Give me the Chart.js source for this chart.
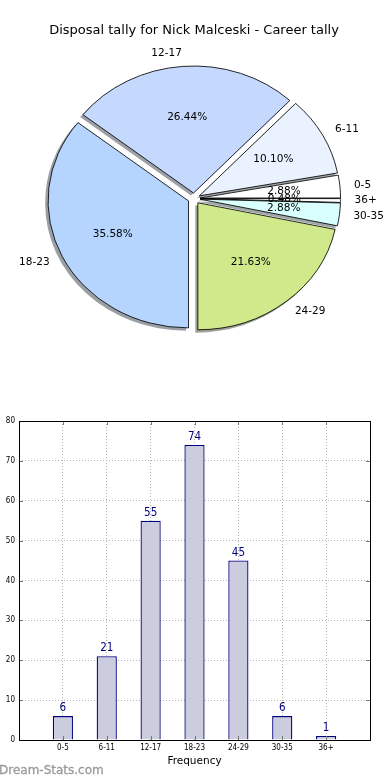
<!DOCTYPE html>
<html><head><meta charset="utf-8">
<script src="https://cdn.jsdelivr.net/npm/chart.js@4/dist/chart.umd.min.js"></script>
<style>
html,body{margin:0;padding:0;background:#fff;}
#wrap{position:relative;width:390px;height:780px;overflow:hidden;font-family:'DejaVu Sans',sans-serif;}
#pieCanvas{position:absolute;left:0;top:0;}
#barCanvas{position:absolute;left:0;top:400px;}
.txt{position:absolute;white-space:nowrap;line-height:1;}
#title{left:0;width:388px;top:23px;text-align:center;font-size:13px;color:#000;}
#xlabel{left:19px;width:351px;top:755px;text-align:center;font-size:10.5px;color:#000;}
#mark{left:-1px;top:764px;font-size:12px;color:#9a9a9a;font-weight:normal;-webkit-text-stroke:0.3px #9a9a9a;}
</style></head>
<body><div id="wrap">
<canvas id="pieCanvas" width="390" height="390"></canvas>
<canvas id="barCanvas" width="390" height="380"></canvas>
<div class="txt" id="title">Disposal tally for Nick Malceski - Career tally</div>
<div class="txt" id="xlabel">Frequency</div>
<div class="txt" id="mark">Dream-Stats.com</div>
</div>
<script>
// ---- data ----
const categories = ['0-5','6-11','12-17','18-23','24-29','30-35','36+'];
const tally = [6, 21, 55, 74, 45, 6, 1];
const sliceColors = ['#ffffff','#eaf2ff','#c5d9ff','#b5d5ff','#d0e98b','#d9ffff','#ffffff'];
const yTicks = [0,10,20,30,40,50,60,70,80];

const total = tally.reduce((a,b)=>a+b,0);
// matplotlib draws counter-clockwise from east; Chart.js clockwise -> reverse order
const pieOrder = categories.map((c,i)=>i).reverse();

const SX = 1.106;      // horizontal stretch of pie (elliptical in reference)
const EXPLODE = 5.5;
const SHADOW = 2.5;

function hexRgb(h){h=h.replace('#','');return [0,2,4].map(i=>parseInt(h.substr(i,2),16));}

const piePlugin = {
  id:'pieDecor',
  afterDatasetUpdate(chart){
    const meta = chart.getDatasetMeta(0);
    meta.data.forEach(arc=>{
      if (arc._wrapped) return;
      arc._wrapped = true;
      arc.draw = function(ctx, area){
        const p = this.getProps(['startAngle','endAngle'], true);
        const mid = (p.startAngle + p.endAngle)/2;
        ctx.save();
        ctx.translate(Math.cos(mid)*EXPLODE, Math.sin(mid)*EXPLODE);
        Chart.ArcElement.prototype.draw.call(this, ctx, area);
        ctx.restore();
      };
    });
  },
  beforeDatasetsDraw(chart){
    const ctx = chart.ctx;
    const meta = chart.getDatasetMeta(0);
    const cx = meta.data[0].x, cy = meta.data[0].y;
    ctx.save();
    ctx.translate(cx, cy); ctx.scale(SX, 1); ctx.translate(-cx, -cy);
    meta.data.forEach((arc,k)=>{
      const p = arc.getProps(['startAngle','endAngle','outerRadius','x','y'], true);
      const mid = (p.startAngle + p.endAngle)/2;
      const ox = p.x + Math.cos(mid)*EXPLODE - SHADOW/SX;
      const oy = p.y + Math.sin(mid)*EXPLODE + SHADOW;
      const c = hexRgb(sliceColors[pieOrder[k]]).map(v=>Math.round(v*0.3));
      ctx.beginPath();
      ctx.moveTo(ox, oy);
      ctx.arc(ox, oy, p.outerRadius + 0.4, p.startAngle, p.endAngle);
      ctx.closePath();
      ctx.fillStyle = `rgba(${c[0]},${c[1]},${c[2]},0.5)`;
      ctx.fill();
    });
  },
  afterDatasetsDraw(chart){
    const ctx = chart.ctx;
    ctx.restore();
    const meta = chart.getDatasetMeta(0);
    const cx = meta.data[0].x, cy = meta.data[0].y;
    ctx.save();
    ctx.fillStyle = '#000';
    ctx.font = '10.5px "DejaVu Sans"';
    meta.data.forEach((arc,k)=>{
      const i = pieOrder[k];
      const p = arc.getProps(['startAngle','endAngle','outerRadius'], true);
      const mid = (p.startAngle + p.endAngle)/2;
      const ux = Math.cos(mid), uy = Math.sin(mid);
      const r = p.outerRadius;
      const lx = cx + SX*ux*(EXPLODE + 1.1*r), ly = cy + uy*(EXPLODE + 1.1*r);
      ctx.textAlign = ux > 0 ? 'left' : 'right';
      ctx.textBaseline = 'middle';
      ctx.fillText(categories[i], lx, ly);
      const px = cx + SX*ux*(EXPLODE + 0.6*r), py = cy + uy*(EXPLODE + 0.6*r);
      ctx.textAlign = 'center';
      ctx.fillText((tally[i]/total*100).toFixed(2) + '%', px, py);
    });
    ctx.restore();
  }
};

new Chart(document.getElementById('pieCanvas'), {
  type:'pie',
  data:{
    labels: pieOrder.map(i=>categories[i]),
    datasets:[{
      data: pieOrder.map(i=>tally[i]),
      backgroundColor: pieOrder.map(i=>sliceColors[i]),
      borderColor:'#000', borderWidth:0.8, radius:127, clip:false
    }]
  },
  options:{
    responsive:false, animation:false, rotation:90,
    layout:{padding:{top:7,left:0,right:2,bottom:0}},
    plugins:{legend:{display:false}, tooltip:{enabled:false}, title:{display:false}}
  },
  plugins:[piePlugin]
});

const barPlugin = {
  id:'barDecor',
  afterDatasetsDraw(chart){
    const ctx = chart.ctx;
    const meta = chart.getDatasetMeta(0);
    ctx.save();
    ctx.fillStyle = '#000080';
    ctx.font = '11.5px "DejaVu Sans Condensed", "DejaVu Sans"';
    ctx.textAlign = 'center';
    ctx.textBaseline = 'bottom';
    meta.data.forEach((bar,i)=>{
      ctx.fillText(String(tally[i]), bar.x, bar.y - 2);
    });
    ctx.restore();
  },
  afterDraw(chart){
    const ctx = chart.ctx, a = chart.chartArea;
    const xs = chart.scales.x, ys = chart.scales.y;
    ctx.save();
    ctx.strokeStyle = '#777'; ctx.lineWidth = 1;
    ctx.beginPath();
    categories.forEach((c,i)=>{
      const x = Math.round(xs.getPixelForValue(i)) + 0.5;
      ctx.moveTo(x, a.top); ctx.lineTo(x, a.top + 4);
      ctx.moveTo(x, a.bottom); ctx.lineTo(x, a.bottom - 4);
    });
    yTicks.forEach(v=>{
      const y = Math.round(ys.getPixelForValue(v)) + 0.5;
      ctx.moveTo(a.left, y); ctx.lineTo(a.left + 4, y);
      ctx.moveTo(a.right, y); ctx.lineTo(a.right - 4, y);
    });
    ctx.stroke();
    ctx.strokeStyle = '#000'; ctx.lineWidth = 1;
    ctx.strokeRect(Math.round(a.left)+0.5, Math.round(a.top)+0.5, Math.round(a.right-a.left), Math.round(a.bottom-a.top));
    ctx.restore();
  }
};

new Chart(document.getElementById('barCanvas'), {
  type:'bar',
  data:{
    datasets:[{
      data: categories.map((c,i)=>({x:i, y:tally[i]})),
      backgroundColor:'#ccccdf', borderColor:'#000080', borderWidth:1.3,
      barPercentage:0.46, categoryPercentage:1
    }]
  },
  options:{
    responsive:false, animation:false,
    layout:{padding:{top:21,right:20,left:0,bottom:0}},
    scales:{
      x:{
        type:'linear', min:-1, max:7, z:1, offset:false,
        afterFit(s){ s.height = 40; },
        afterBuildTicks(s){ s.ticks = [-1,0,1,2,3,4,5,6,7].map(v=>({value:v})); },
        ticks:{autoSkip:false, maxRotation:0, padding:3, color:'#000',
          font:{family:'"DejaVu Sans Condensed", "DejaVu Sans"', size:8},
          callback:(v)=> (v>=0 && v<categories.length) ? categories[v] : ''},
        grid:{color:'#b4b4b4', lineWidth:1, drawTicks:false, offset:false},
        border:{display:false, dash:[1,2]}
      },
      y:{
        min:0, max:80, z:1,
        afterFit(s){ s.width = 19; },
        afterBuildTicks(s){ s.ticks = yTicks.map(v=>({value:v})); },
        ticks:{padding:4, color:'#000',
          font:{family:'"DejaVu Sans Condensed", "DejaVu Sans"', size:8}},
        grid:{color:'#b4b4b4', lineWidth:1, drawTicks:false},
        border:{display:false, dash:[1,2]}
      }
    },
    plugins:{legend:{display:false}, tooltip:{enabled:false}}
  },
  plugins:[barPlugin]
});
</script>
</body></html>
